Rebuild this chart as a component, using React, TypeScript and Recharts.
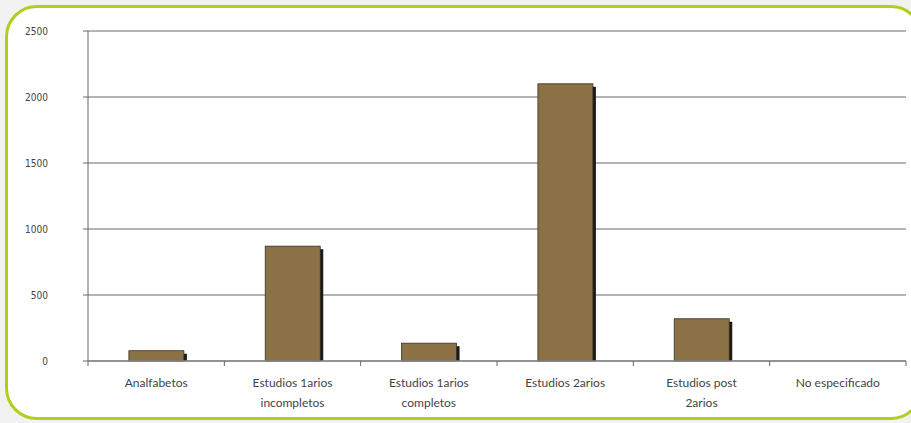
import React from "react";
import { BarChart, Bar, XAxis, YAxis, CartesianGrid } from "recharts";

const categories = [
  "Analfabetos",
  "Estudios 1arios\nincompletos",
  "Estudios 1arios\ncompletos",
  "Estudios 2arios",
  "Estudios post\n2arios",
  "No especificado",
];
const values = [78, 870, 135, 2100, 320, 0];
const yTicks = [0, 500, 1000, 1500, 2000, 2500];

const data = categories.map((c, i) => ({ name: c, value: values[i] }));

const W = 911;
const H = 423;
const M = { top: 31, right: 5, bottom: 0, left: 0 };
const Y_W = 88;
const X_H = 62;
const plotW = W - M.left - M.right - Y_W;
const band = plotW / categories.length;

const BarShape = (props: any) => {
  const { x, y, width, height } = props;
  if (!height || height <= 0) return null;
  return (
    <g>
      <rect x={x + 3} y={y + 3} width={width} height={Math.max(height - 3, 0)} fill="#1a1a1a" />
      <rect x={x} y={y} width={width} height={height} fill="#8b7246" stroke="#3b301c" strokeWidth={0.8} />
    </g>
  );
};

const XTick = (props: any) => {
  const { x, y, payload, index } = props;
  const lines = String(payload.value).split("\n");
  return (
    <g>
      <line x1={x - band / 2} x2={x - band / 2} y1={y - 8} y2={y - 3} stroke="#666" strokeWidth={1} />
      {index === categories.length - 1 && (
        <line x1={x + band / 2} x2={x + band / 2} y1={y - 8} y2={y - 3} stroke="#666" strokeWidth={1} />
      )}
      <text textAnchor="middle" fill="#444" fontSize={12} fontFamily="Lato, 'Open Sans', sans-serif">
        {lines.map((l, i) => (
          <tspan key={i} x={x} y={y + 18 + i * 20}>
            {l}
          </tspan>
        ))}
      </text>
    </g>
  );
};

export default function App() {
  return (
    <div
      style={{
        position: "absolute",
        left: 0,
        top: 0,
        width: W,
        height: H,
        background: "#f1f2f1",
        overflow: "hidden",
      }}
    >
      <div
        style={{
          position: "absolute",
          left: 5,
          top: 5,
          width: 912,
          height: 409,
          border: "3px solid #b3cd1b",
          borderRadius: 32,
          background: "#ffffff",
        }}
      />
      <div style={{ position: "absolute", left: 0, top: 0 }}>
        <BarChart width={W} height={H} data={data} margin={M} barCategoryGap="30%">
          <CartesianGrid vertical={false} stroke="#b4b4b4" strokeWidth={2} />
          <YAxis
            width={Y_W}
            domain={[0, 2500]}
            ticks={yTicks}
            tickSize={5}
            tickMargin={35}
            axisLine={{ stroke: "#666", strokeWidth: 1 }}
            tickLine={{ stroke: "#666" }}
            tick={{ fill: "#444", fontSize: 10, fontFamily: "'Liberation Sans Narrow', 'DejaVu Sans Condensed', sans-serif" }}
          />
          <XAxis
            dataKey="name"
            interval={0}
            tickLine={false}
            axisLine={{ stroke: "#888", strokeWidth: 1.5 }}
            tick={<XTick />}
            height={X_H}
          />
          <Bar dataKey="value" shape={<BarShape />} isAnimationActive={false} />
        </BarChart>
      </div>
    </div>
  );
}
